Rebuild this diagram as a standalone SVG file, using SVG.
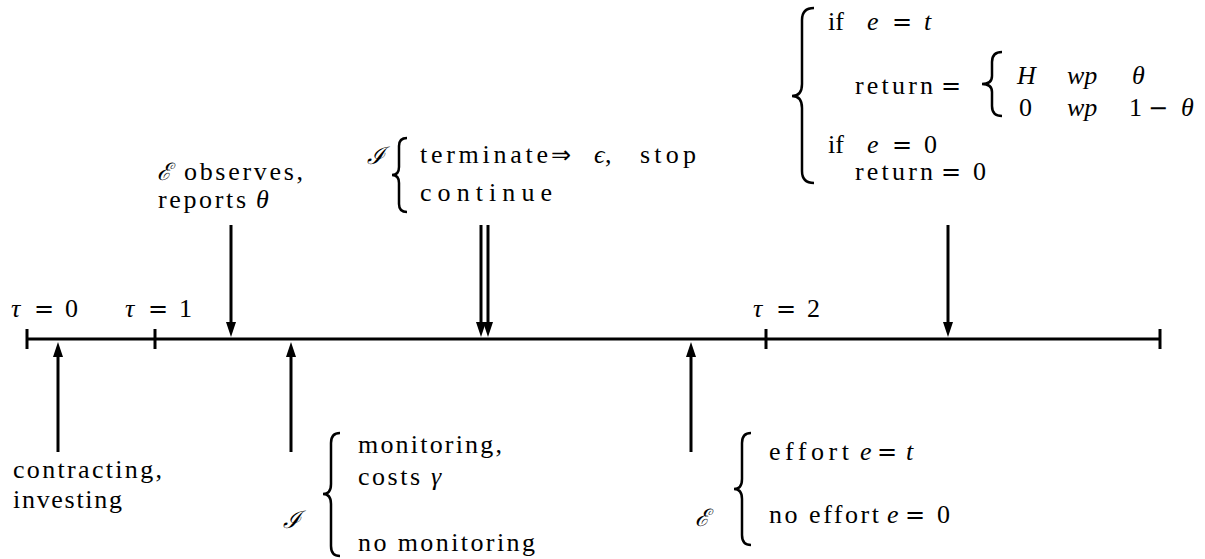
<svg xmlns="http://www.w3.org/2000/svg" width="1205" height="559" viewBox="0 0 1205 559">
<style>
text{font-family:"Liberation Serif","DejaVu Serif",serif;font-size:26px;fill:#000}
.i{font-style:italic}
.m{font-family:"DejaVu Sans",sans-serif;font-size:24px}
.s{font-family:"DejaVu Serif",serif;font-style:italic;font-size:24px}
.ln{stroke:#000;stroke-width:3;fill:none}
.br{stroke:#000;stroke-width:2.5;fill:none}
</style>
<g id="timeline">
<line class="ln" x1="27" y1="339" x2="1160" y2="339"/>
<line class="ln" x1="27" y1="329" x2="27" y2="349"/>
<line class="ln" x1="155" y1="329" x2="155" y2="349"/>
<line class="ln" x1="766" y1="329" x2="766" y2="349"/>
<line class="ln" x1="1160" y1="329" x2="1160" y2="349"/>
<text x="11" y="317"><tspan class="i">τ</tspan><tspan x="34" class="m">=</tspan><tspan x="65">0</tspan></text>
<text x="125" y="317"><tspan class="i">τ</tspan><tspan x="148" class="m">=</tspan><tspan x="179">1</tspan></text>
<text x="753" y="317"><tspan class="i">τ</tspan><tspan x="776" class="m">=</tspan><tspan x="807">2</tspan></text>
</g>
<g id="connectors">
<path d="M231,225 V325" class="ln"/><path d="M226,322 L236,322 L231,337 Z"/>
<path d="M481,225 V325" class="ln"/><path d="M476,322 L486,322 L481,337 Z"/>
<path d="M488,225 V325" class="ln"/><path d="M483,322 L493,322 L488,337 Z"/>
<path d="M948,225 V325" class="ln"/><path d="M943,322 L953,322 L948,337 Z"/>
<path d="M58,452 V355" class="ln"/><path d="M53,357 L63,357 L58,342 Z"/>
<path d="M291,452 V355" class="ln"/><path d="M286,357 L296,357 L291,342 Z"/>
<path d="M691,452 V355" class="ln"/><path d="M686,357 L696,357 L691,342 Z"/>
</g>
<g id="n-contracting">
<text x="13" y="478" textLength="149" lengthAdjust="spacing">contracting,</text>
<text x="13" y="508" textLength="109" lengthAdjust="spacing">investing</text>
</g>
<g id="n-observes">
<text x="157" y="180"><tspan class="s">ℰ</tspan><tspan x="184" textLength="119" lengthAdjust="spacing">observes,</tspan></text>
<text x="158" y="208"><tspan textLength="88" lengthAdjust="spacing">reports</tspan><tspan x="256" class="i">θ</tspan></text>
</g>
<g id="n-terminate">
<text x="367" y="164" class="s">ℐ</text>
<path class="br" d="M407,138 Q399,138 399,146 L399,167 Q399,175 392,175 Q399,175 399,183 L399,204 Q399,212 407,212"/>
<text x="420" y="163"><tspan textLength="128" lengthAdjust="spacing">terminate</tspan><tspan x="551" class="m">⇒</tspan><tspan x="594" class="i">ϵ</tspan><tspan x="605">,</tspan><tspan x="640" textLength="56" lengthAdjust="spacing">stop</tspan></text>
<text x="420" y="201" textLength="132" lengthAdjust="spacing">continue</text>
</g>
<g id="n-monitoring">
<text x="283" y="528" class="s">ℐ</text>
<path class="br" d="M340,433 Q331,433 331,443 L331,484 Q331,494 323,494 Q331,494 331,504 L331,546 Q331,556 340,556"/>
<text x="358" y="453" textLength="144" lengthAdjust="spacing">monitoring,</text>
<text x="358" y="485"><tspan textLength="62" lengthAdjust="spacing">costs</tspan><tspan x="431" class="i">γ</tspan></text>
<text x="358" y="551" textLength="177" lengthAdjust="spacing">no monitoring</text>
</g>
<g id="n-effort">
<text x="695" y="526" class="s">ℰ</text>
<path class="br" d="M751,433 Q742,433 742,443 L742,479 Q742,489 734,489 Q742,489 742,499 L742,535 Q742,545 751,545"/>
<text x="769" y="460"><tspan textLength="80" lengthAdjust="spacing">effort</tspan><tspan x="860" class="i">e</tspan><tspan x="877" class="m">=</tspan><tspan x="906" class="i">t</tspan></text>
<text x="769" y="523"><tspan textLength="110" lengthAdjust="spacing">no effort</tspan><tspan x="887" class="i">e</tspan><tspan x="905" class="m">=</tspan><tspan x="937">0</tspan></text>
</g>
<g id="n-return">
<path class="br" d="M814,8 Q802,8 802,20 L802,84 Q802,96 792,96 Q802,96 802,108 L802,171 Q802,183 814,183"/>
<text x="828" y="30"><tspan>if</tspan><tspan x="867" class="i">e</tspan><tspan x="892" class="m">=</tspan><tspan x="924" class="i">t</tspan></text>
<text x="855" y="94"><tspan textLength="78" lengthAdjust="spacing">return</tspan><tspan x="941" class="m">=</tspan></text>
<path class="br" d="M1002,52 Q992,52 992,62 L992,76 Q992,84 982,84 Q992,84 992,92 L992,106 Q992,116 1002,116"/>
<text x="1017" y="84"><tspan class="i">H</tspan><tspan x="1067" class="i">wp</tspan><tspan x="1132" class="i">θ</tspan></text>
<text x="1019" y="116"><tspan>0</tspan><tspan x="1067" class="i">wp</tspan><tspan x="1129">1</tspan><tspan x="1148" class="m">−</tspan><tspan x="1181" class="i">θ</tspan></text>
<text x="828" y="153"><tspan>if</tspan><tspan x="867" class="i">e</tspan><tspan x="892" class="m">=</tspan><tspan x="924">0</tspan></text>
<text x="855" y="180"><tspan textLength="78" lengthAdjust="spacing">return</tspan><tspan x="941" class="m">=</tspan><tspan x="973">0</tspan></text>
</g>
</svg>
